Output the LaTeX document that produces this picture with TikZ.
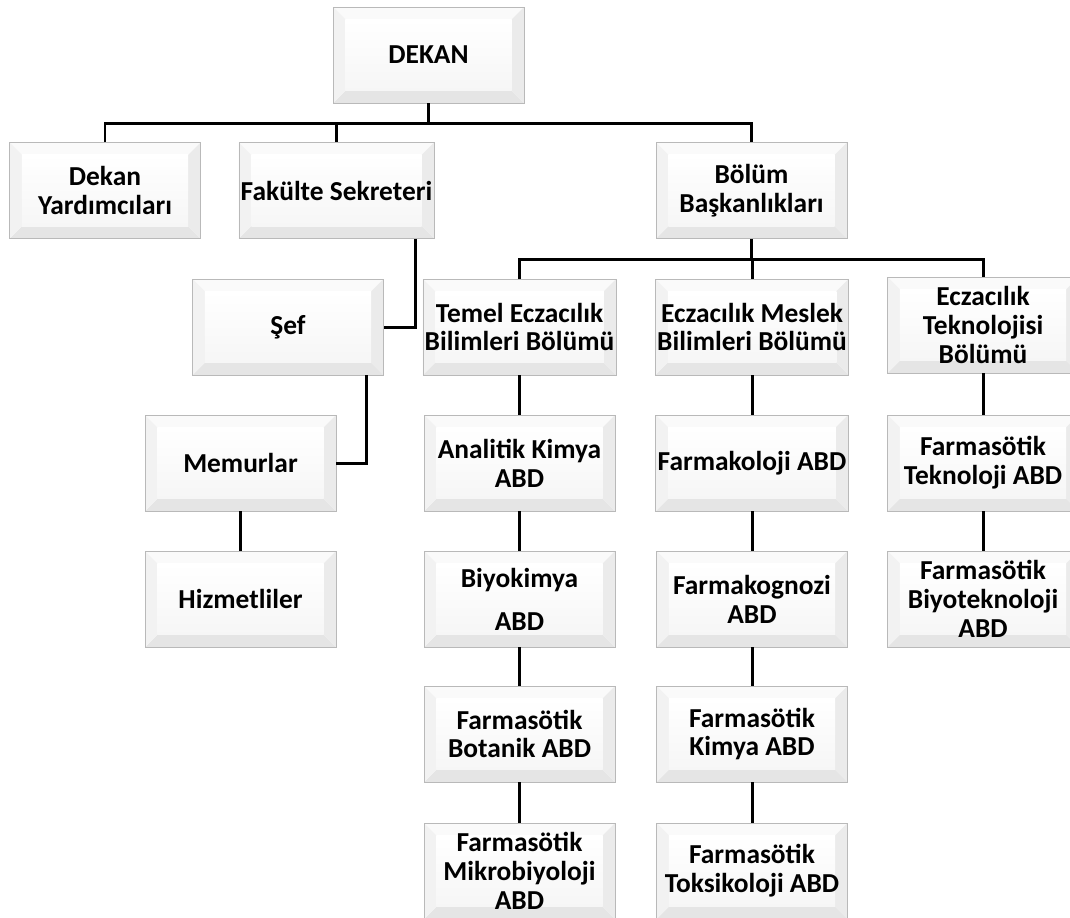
\documentclass[tikz,border=0pt]{standalone}
\usepackage{fontspec}
\setmainfont{Carlito}
\usetikzlibrary{calc}

\tikzset{
	box/.style={draw=gray!55, line width=0.5pt, fill=white, minimum width=3.82cm, minimum height=1.92cm,
		inner sep=1pt, align=center, font=\bfseries\fontsize{15.6}{16.4}\selectfont,
		path picture={
			\path (path picture bounding box.north west) coordinate (pnw)
				(path picture bounding box.north east) coordinate (pne)
				(path picture bounding box.south west) coordinate (psw)
				(path picture bounding box.south east) coordinate (pse);
			\fill[gray!4] (pnw) -- (pne) -- ([shift={(-7pt,-7pt)}]pne) -- ([shift={(7pt,-7pt)}]pnw) -- cycle;
			\fill[gray!20] (psw) -- (pse) -- ([shift={(-7pt,7pt)}]pse) -- ([shift={(7pt,7pt)}]psw) -- cycle;
			\fill[gray!10] (pnw) -- (psw) -- ([shift={(7pt,7pt)}]psw) -- ([shift={(7pt,-7pt)}]pnw) -- cycle;
			\fill[gray!16] (pne) -- (pse) -- ([shift={(-7pt,7pt)}]pse) -- ([shift={(-7pt,-7pt)}]pne) -- cycle;
			\shade[top color=white, bottom color=gray!7] ([shift={(7pt,-7pt)}]pnw) rectangle ([shift={(-7pt,7pt)}]pse);
		}},
	link/.style={line width=1.7pt}
}

\begin{document}
\begin{tikzpicture}[x=0.02cm, y=-0.02cm]
		\useasboundingbox (0, 0) rectangle (1070, 917);

		% top levels
		\node[box] (dekan) at (428.5, 55) {DEKAN};
		\node[box] (dy) at (105, 190.5) {Dekan\\Yardımcıları};
		\node[box] (fs) at (336.5, 190.5) {Fakülte Sekreteri};
		\node[box] (bolum) at (751.5, 190.5) {Bölüm\\Başkanlıkları};

		% administration
		\node[box] (sef) at (288, 327) {Şef};
		\node[box] (memur) at (240.5, 463) {Memurlar};
		\node[box] (hizmet) at (240.5, 599) {Hizmetliler};

		% departments
		\node[box] (temel) at (519.5, 327) {Temel Eczacılık\\Bilimleri Bölümü};
		\node[box] (meslek) at (752, 327) {Eczacılık Meslek\\Bilimleri Bölümü};
		\node[box] (tekno) at (983, 325) {Eczacılık\\Teknolojisi\\Bölümü};

		\node[box] (analitik) at (519.5, 463) {Analitik Kimya\\ABD};
		\node[box] (biyokimya) at (519.5, 599) {Biyokimya\\[8pt]ABD};
		\node[box] (botanik) at (519.5, 734) {Farmasötik\\Botanik ABD};
		\node[box] (mikro) at (519.5, 871) {Farmasötik\\Mikrobiyoloji\\ABD};

		\node[box] (farmakoloji) at (752, 463) {Farmakoloji ABD};
		\node[box] (farmakognozi) at (752, 599) {Farmakognozi\\ABD};
		\node[box] (fkimya) at (752, 734) {Farmasötik\\Kimya ABD};
		\node[box] (toksik) at (752, 871) {Farmasötik\\Toksikoloji ABD};

		\node[box] (ftekno) at (983, 463) {Farmasötik\\Teknoloji ABD};
		\node[box] (biyotekno) at (983, 599) {Farmasötik\\Biyoteknoloji\\ABD};

		% connectors
		\coordinate (topbus) at (428.5, 123);
		\coordinate (deptbus) at (751.5, 259);
		\draw[link, line width=2.1pt] (dekan) -- (topbus);
		\draw[link] (dy.north) |- (topbus) -| (bolum.north);
		\draw[link] (fs.north) -- (fs.north |- topbus);
		\draw[link] (bolum) -- (deptbus);
		\draw[link] (temel.north) |- (deptbus) -| (tekno.north);
		\draw[link] (meslek.north) -- (meslek.north |- deptbus);

		\draw[link] ([xshift=-0.38cm]fs.south east) |- (sef.east);
		\draw[link] ([xshift=-0.34cm]sef.south east) |- (memur.east);
		\draw[link] (memur) -- (hizmet);

		\foreach \a/\b in {temel/analitik, analitik/biyokimya, biyokimya/botanik, botanik/mikro,
			meslek/farmakoloji, farmakoloji/farmakognozi, farmakognozi/fkimya, fkimya/toksik,
			tekno/ftekno, ftekno/biyotekno}
			\draw[link] (\a) -- (\b);
\end{tikzpicture}
\end{document}
